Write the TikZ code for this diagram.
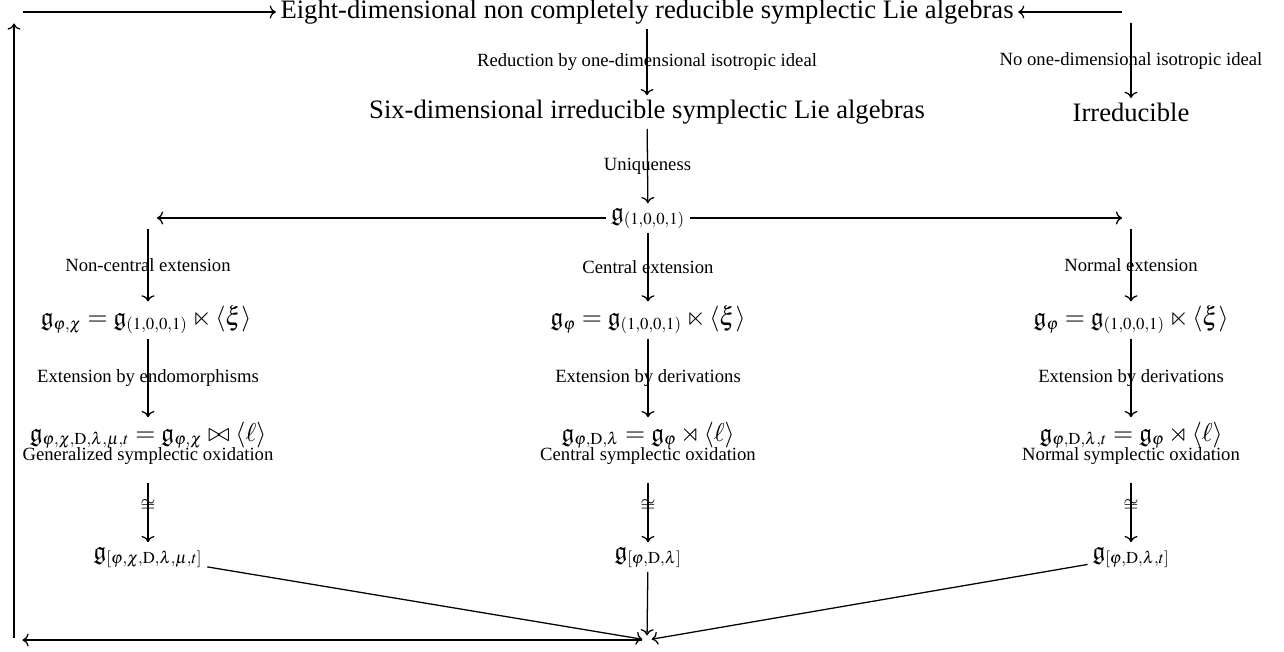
\documentclass[tikz,border=0pt]{standalone}
\usepackage{mathptmx}
\usepackage{amssymb}
\usepackage{fontspec}
\setmainfont{Liberation Serif}
\usetikzlibrary{arrows.meta,positioning}
\DeclareMathSizes{12.2}{12.2}{7.9}{6}
\DeclareMathSizes{9}{9}{6.5}{5}

\begin{document}
\begin{tikzpicture}[x=0.4717pt, y=-0.4717pt,
  gross/.style={font=\fontsize{12.55}{15}\selectfont, inner sep=2pt},
  obj/.style={font=\fontsize{12.2}{14}\selectfont, inner sep=2pt},
  leer/.style={inner xsep=4pt, inner ysep=5.2pt},
  etikett/.style={font=\fontsize{8.8}{10}\selectfont, midway, inner sep=1pt},
  iso/.style={font=\fontsize{9}{10}\selectfont, midway, inner sep=0pt},
  pfeil/.style={-{Computer Modern Rightarrow}, line width=0.6pt}]
\useasboundingbox (0,0) rectangle (1284,651);
% oben
\node[gross] (acht) at (647,12) {Eight-dimensional non completely reducible symplectic Lie algebras};
\node[gross] (sechs) at (647,112) {Six-dimensional irreducible symplectic Lie algebras};
\node[gross] (irr) at (1131,112) {Irreducible};
\node[leer] (tl) at (14,12) {};
\node[leer] (tr) at (1131,12) {};
% Mitte
\node[obj] (g) at (648,218) {$\mathfrak{g}_{(1,0,0,1)}$};
\node[leer] (nl) at (148,218) {};
\node[leer] (nr) at (1131,218) {};
\node[obj] (eL) at (146,320) {$\mathfrak{g}_{\varphi,\chi} = \mathfrak{g}_{(1,0,0,1)} \ltimes \langle\xi\rangle$};
\node[obj] (eC) at (648,320) {$\mathfrak{g}_{\varphi} = \mathfrak{g}_{(1,0,0,1)} \ltimes \langle\xi\rangle$};
\node[obj] (eR) at (1131,320) {$\mathfrak{g}_{\varphi} = \mathfrak{g}_{(1,0,0,1)} \ltimes \langle\xi\rangle$};
\node[obj, align=center] (oL) at (148,443) {$\mathfrak{g}_{\varphi,\chi,\mathrm{D},\lambda,\mu,t} = \mathfrak{g}_{\varphi,\chi} \bowtie \langle\ell\rangle$\\[-5pt]\fontsize{8.8}{10}\selectfont Generalized symplectic oxidation};
\node[obj, align=center] (oC) at (648,443) {$\mathfrak{g}_{\varphi,\mathrm{D},\lambda} = \mathfrak{g}_{\varphi} \rtimes \langle\ell\rangle$\\[-5pt]\fontsize{8.8}{10}\selectfont Central symplectic oxidation};
\node[obj, align=center] (oR) at (1131,443) {$\mathfrak{g}_{\varphi,\mathrm{D},\lambda,t} = \mathfrak{g}_{\varphi} \rtimes \langle\ell\rangle$\\[-5pt]\fontsize{8.8}{10}\selectfont Normal symplectic oxidation};
% unten
\node[obj] (bL) at (148,557) {$\mathfrak{g}_{[\varphi,\chi,\mathrm{D},\lambda,\mu,t]}$};
\node[obj] (bC) at (648,557) {$\mathfrak{g}_{[\varphi,\mathrm{D},\lambda]}$};
\node[obj] (bR) at (1131,557) {$\mathfrak{g}_{[\varphi,\mathrm{D},\lambda,t]}$};
\node[inner sep=2pt] (hub) at (647,640) {};
\coordinate (bl) at (14,640);
% Pfeile
\draw[pfeil] (tl) -- (acht);
\draw[pfeil] (tr) -- (acht);
\draw[pfeil] (acht) -- node[etikett]{Reduction by one-dimensional isotropic ideal} (sechs);
\draw[pfeil] (tr) -- node[etikett]{No one-dimensional isotropic ideal} (irr);
\draw[pfeil] (sechs) -- node[etikett]{Uniqueness} (g);
\draw[pfeil] (g) -- (nl);
\draw[pfeil] (g) -- (nr);
\draw[pfeil] (nl) -- node[etikett]{Non-central extension} (eL.north -| nl);
\draw[pfeil] (g) -- node[etikett]{Central extension} (eC);
\draw[pfeil] (nr) -- node[etikett]{Normal extension} (eR);
\draw[pfeil] (eL.south -| oL) -- node[etikett]{Extension by endomorphisms} (oL);
\draw[pfeil] (eC) -- node[etikett]{Extension by derivations} (oC);
\draw[pfeil] (eR) -- node[etikett]{Extension by derivations} (oR);
\draw[pfeil, shorten <=6.5pt] (oL) -- node[iso]{$\cong$} (bL);
\draw[pfeil, shorten <=6.5pt] (oC) -- node[iso]{$\cong$} (bC);
\draw[pfeil, shorten <=6.5pt] (oR) -- node[iso]{$\cong$} (bR);
\draw[pfeil] (bL) -- (hub);
\draw[pfeil] (bC) -- (hub);
\draw[pfeil] (bR) -- (hub);
\draw[pfeil, shorten >=4pt] (hub) -- (bl);
\draw[pfeil, shorten <=1pt] (bl) -- (tl);
\end{tikzpicture}
\end{document}
